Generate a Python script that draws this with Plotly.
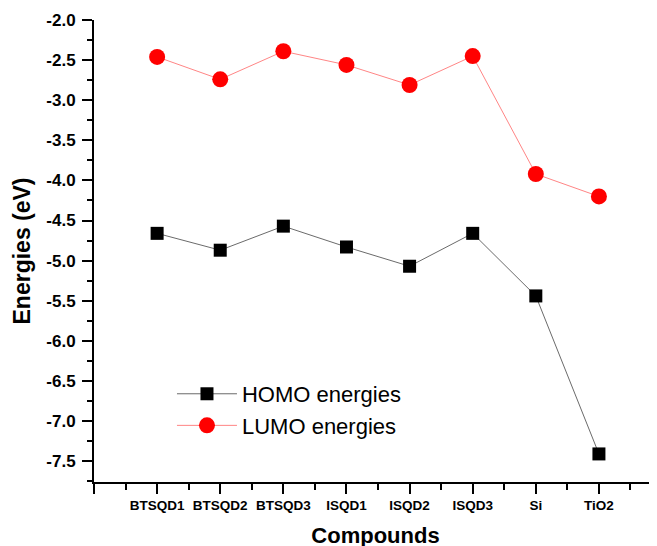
import plotly.graph_objects as go

compounds = ["BTSQD1", "BTSQD2", "BTSQD3", "ISQD1", "ISQD2", "ISQD3", "Si", "TiO2"]
homo = [-4.66, -4.87, -4.57, -4.83, -5.07, -4.66, -5.44, -7.41]
lumo = [-2.46, -2.74, -2.39, -2.56, -2.81, -2.45, -3.92, -4.20]
y_ticks = [-2.0, -2.5, -3.0, -3.5, -4.0, -4.5, -5.0, -5.5, -6.0, -6.5, -7.0, -7.5]

xpos = list(range(1, len(compounds) + 1))
FONT = "Arial, Liberation Sans, sans-serif"

fig = go.Figure()
fig.add_trace(go.Scatter(
    x=xpos, y=homo, mode="lines+markers", name="HOMO energies",
    line=dict(color="#444444", width=0.8),
    marker=dict(symbol="square", size=13, color="black"),
))
fig.add_trace(go.Scatter(
    x=xpos, y=lumo, mode="lines+markers", name="LUMO energies",
    line=dict(color="#ff6666", width=0.8),
    marker=dict(symbol="circle", size=16, color="#ff0000"),
))

# page body has an 8px default margin; margins compensate for it
fig.update_layout(
    width=657, height=546,
    margin=dict(l=86, r=8, t=12, b=72, autoexpand=False),
    plot_bgcolor="white", paper_bgcolor="white",
    font=dict(family=FONT, color="black"),
    showlegend=True,
    legend=dict(
        x=0.1385, y=0.236, xanchor="left", yanchor="top",
        bgcolor="rgba(0,0,0,0)", font=dict(size=22, family=FONT),
        itemwidth=60, tracegroupgap=0,
    ),
    xaxis=dict(
        range=[0, 8.92],
        tickmode="array", tickvals=[0] + xpos, ticktext=[""] + compounds,
        tickfont=dict(size=13.5, family=FONT, weight="bold"),
        ticks="outside", ticklen=10, tickwidth=2, tickcolor="black",
        minor=dict(dtick=1, tick0=0.5, ticks="outside", ticklen=6, tickwidth=2, tickcolor="black"),
        showline=True, linewidth=2, linecolor="black",
        showgrid=False, zeroline=False, automargin=False,
        title=dict(text="Compounds", font=dict(size=22, family=FONT, weight="bold"), standoff=15),
    ),
    yaxis=dict(
        range=[-7.76, -2.0],
        tickmode="array", tickvals=y_ticks, ticktext=[f"{v:.1f}" for v in y_ticks],
        tickfont=dict(size=17, family=FONT, weight="bold"),
        ticks="outside", ticklen=10, tickwidth=2, tickcolor="black",
        ticklabelstandoff=3,
        minor=dict(dtick=0.5, tick0=-2.25, ticks="outside", ticklen=5, tickwidth=2, tickcolor="black"),
        showline=True, linewidth=2, linecolor="black",
        showgrid=False, zeroline=False, automargin=False,
        title=dict(text="Energies (eV)", font=dict(size=23, family=FONT, weight="bold"), standoff=9),
    ),
)

fig.write_html("out.html")
